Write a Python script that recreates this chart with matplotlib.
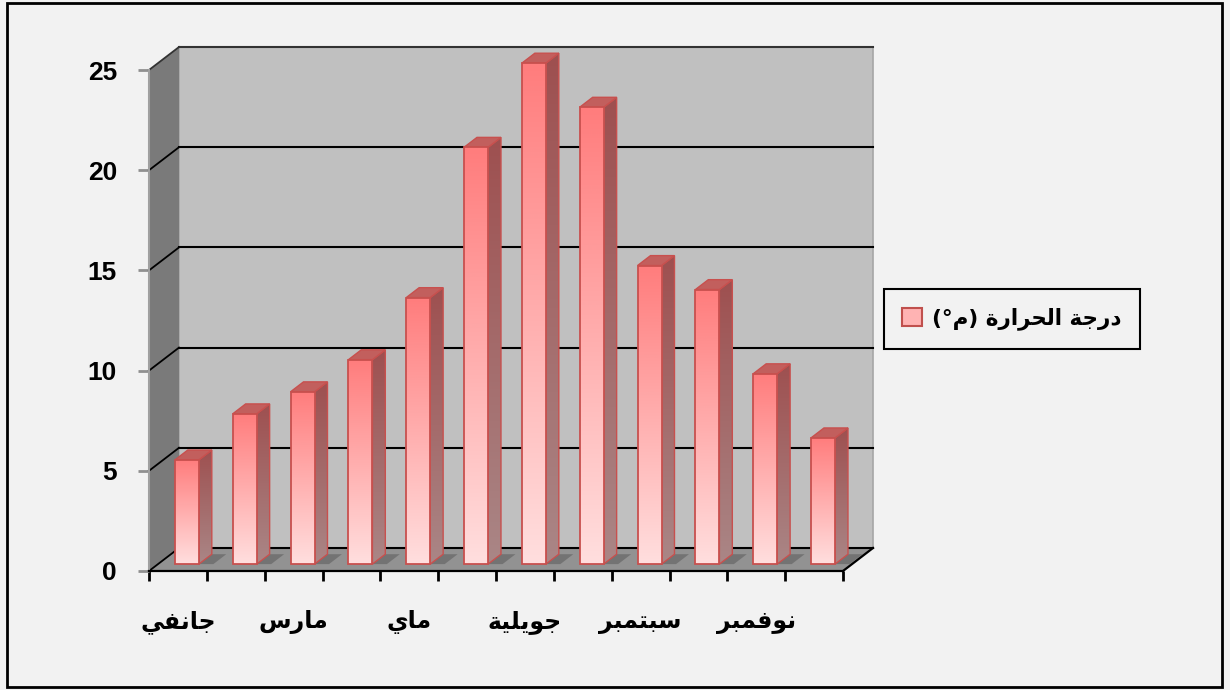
import numpy as np
import matplotlib
matplotlib.use('Agg')
import matplotlib.pyplot as plt
from matplotlib.patches import Polygon, Rectangle, Patch

# data
months = ['جانفي', 'فيفري', 'مارس', 'أفريل', 'ماي', 'جوان',
          'جويلية', 'أوت', 'سبتمبر', 'أكتوبر', 'نوفمبر', 'ديسمبر']
temps = [5.2, 7.5, 8.6, 10.2, 13.3, 20.8, 25.0, 22.8, 14.9, 13.7, 9.5, 6.3]
series_name = 'درجة الحرارة (م°)'
yticks = [0, 5, 10, 15, 20, 25]

# arabic letters -> presentation forms (isolated, final[, initial, medial])
FORMS = {
    'ا': ('\uFE8D', '\uFE8E'),
    'ب': ('\uFE8F', '\uFE90', '\uFE91', '\uFE92'),
    'ة': ('\uFE93', '\uFE94'),
    'ت': ('\uFE95', '\uFE96', '\uFE97', '\uFE98'),
    'ج': ('\uFE9D', '\uFE9E', '\uFE9F', '\uFEA0'),
    'ح': ('\uFEA1', '\uFEA2', '\uFEA3', '\uFEA4'),
    'د': ('\uFEA9', '\uFEAA'),
    'ر': ('\uFEAD', '\uFEAE'),
    'س': ('\uFEB1', '\uFEB2', '\uFEB3', '\uFEB4'),
    'ف': ('\uFED1', '\uFED2', '\uFED3', '\uFED4'),
    'ل': ('\uFEDD', '\uFEDE', '\uFEDF', '\uFEE0'),
    'م': ('\uFEE1', '\uFEE2', '\uFEE3', '\uFEE4'),
    'ن': ('\uFEE5', '\uFEE6', '\uFEE7', '\uFEE8'),
    'و': ('\uFEED', '\uFEEE'),
    'ي': ('\uFEF1', '\uFEF2', '\uFEF3', '\uFEF4'),
}
MIRROR = {'(': ')', ')': '('}


def shape(text):
    """ join letters and put them in visual (left to right) order """
    out = []
    for i, ch in enumerate(text):
        f = FORMS.get(ch)
        if f is None:
            out.append(MIRROR.get(ch, ch))
            continue
        prev = text[i - 1] if i else ''
        nxt = text[i + 1] if i + 1 < len(text) else ''
        a = prev in FORMS and len(FORMS[prev]) == 4
        b = len(f) == 4 and nxt in FORMS
        if a and b:
            out.append(f[3])
        elif a:
            out.append(f[1])
        elif b:
            out.append(f[2])
        else:
            out.append(f[0])
    return ''.join(reversed(out))


# layout of the fake 3d box (pixels)
W, H = 1230, 690
X0, Y0 = 149, 571          # front bottom-left corner
CAT_PX = (843 - 149) / 12  # one category
VAL_PX = (571 - 70) / 25   # one unit
DX = 30 / CAT_PX           # depth offset in data units
DY = 23 / VAL_PX
N = len(temps)
TOP = 25

fig = plt.figure(figsize=(W / 100, H / 100), dpi=100, facecolor='#f2f2f2')
ax = fig.add_axes([0, 0, 1, 1])
ax.set_facecolor('none')
xlim = (-X0 / CAT_PX, (W - X0) / CAT_PX)
ylim = (-(H - Y0) / VAL_PX, Y0 / VAL_PX)


def grad(poly, c_top, c_bot, z):
    xs = [p[0] for p in poly]
    ys = [p[1] for p in poly]
    g = np.linspace(0, 1, 64)[:, None, None]
    img = np.array(c_top)[None, None, :] * (1 - g) + np.array(c_bot)[None, None, :] * g
    im = ax.imshow(img / 255, extent=(min(xs), max(xs), min(ys), max(ys)),
                   aspect='auto', zorder=z, interpolation='bilinear')
    clip = Polygon(poly, closed=True, transform=ax.transData, fc='none', ec='none')
    ax.add_patch(clip)
    im.set_clip_path(clip)


# walls and floor
ax.add_patch(Polygon([(DX, DY), (N + DX, DY), (N + DX, TOP + DY), (DX, TOP + DY)],
                     fc='#c0c0c0', ec='#a6a6a6', lw=1.2, zorder=1))
ax.add_patch(Polygon([(0, 0), (DX, DY), (DX, TOP + DY), (0, TOP)],
                     fc='#7a7a7a', ec='none', zorder=1))
ax.add_patch(Polygon([(0, 0), (N, 0), (N + DX, DY), (DX, DY)],
                     fc='#929292', ec='none', zorder=1))

for v in yticks:
    c = 'black' if v < TOP else '#333333'
    ax.plot([DX, N + DX], [v + DY, v + DY], color=c, lw=1.5, zorder=2)
    ax.plot([0, DX], [v, v + DY], color=c, lw=1.3, zorder=2)
ax.plot([N, N + DX], [0, DY], color='black', lw=1.6, zorder=2)

# bars
bw = 0.415   # bar width (categories)
z0 = 0.30    # front of bar, fraction of depth
zd = 0.43    # bar depth
edge = '#c8504e'
for i, v in enumerate(temps):
    x0 = i + 0.5 - bw / 2 + z0 * DX
    y0 = z0 * DY
    x1 = x0 + bw
    ox, oy = zd * DX, zd * DY
    # shadow on the floor
    ax.add_patch(Polygon([(x1, y0), (x1 + ox, y0 + oy), (x1 + ox + 0.25, y0 + oy),
                          (x1 + 0.25, y0)], fc='#555555', ec='none', alpha=0.5, zorder=2))
    front = [(x0, y0), (x1, y0), (x1, y0 + v), (x0, y0 + v)]
    side = [(x1, y0), (x1 + ox, y0 + oy), (x1 + ox, y0 + oy + v), (x1, y0 + v)]
    top = [(x0, y0 + v), (x1, y0 + v), (x1 + ox, y0 + oy + v), (x0 + ox, y0 + oy + v)]
    grad(side, (158, 80, 80), (170, 134, 134), 3)
    ax.add_patch(Polygon(side, fc='none', ec=edge, lw=1, zorder=3.5))
    ax.add_patch(Polygon(top, fc='#c25f5d', ec=edge, lw=1, zorder=3.5))
    grad(front, (255, 125, 125), (255, 222, 222), 4)
    ax.add_patch(Polygon(front, fc='none', ec=edge, lw=1.3, zorder=4.5))

# axes, ticks and labels
for s in ['top', 'right']:
    ax.spines[s].set_visible(False)
ax.spines['left'].set_position(('data', 0))
ax.spines['left'].set_bounds(0, TOP)
ax.spines['left'].set_color('#a0a0a0')
ax.spines['left'].set_linewidth(1.5)
ax.spines['left'].set_zorder(2.5)
ax.spines['bottom'].set_position(('data', 0))
ax.spines['bottom'].set_bounds(0, N)
ax.spines['bottom'].set_color('black')
ax.spines['bottom'].set_linewidth(1.6)

ax.set_yticks(yticks)
ax.set_yticklabels([str(t) for t in yticks], fontfamily='Liberation Sans',
                   fontweight='bold', fontsize=19)
ax.tick_params(axis='y', length=8, width=2, color='#909090', pad=15)

ax.set_xticks(np.arange(N + 1))
ax.set_xticklabels([])
ax.tick_params(axis='x', which='major', length=7, width=2, color='black')
ax.set_xticks(np.arange(0, N, 2) + 0.5, minor=True)
ax.set_xticklabels([shape(m) for m in months[::2]], minor=True,
                   fontfamily='DejaVu Sans', fontweight='bold', fontsize=17)
ax.tick_params(axis='x', which='minor', length=0, pad=28)

ax.set_xlim(xlim)
ax.set_ylim(ylim)

leg = ax.legend(handles=[Patch(fc='#ffb3b3', ec='#c0504d', lw=1.5, label=shape(series_name))],
                loc='center', bbox_to_anchor=(1012 / W, 1 - 319 / H),
                bbox_transform=fig.transFigure, fancybox=False, frameon=True,
                edgecolor='black', facecolor='#f2f2f2', framealpha=1,
                prop={'family': 'DejaVu Sans', 'weight': 'bold', 'size': 15.5},
                handlelength=0.9, handleheight=0.9, handletextpad=0.5,
                borderpad=0.85)
leg.get_frame().set_linewidth(1.5)

fig.patches.append(Rectangle((7 / W, 3 / H), (1222 - 7) / W, (687 - 3) / H,
                             transform=fig.transFigure, fill=False,
                             ec='black', lw=2))

plt.savefig('out.png', dpi=100, facecolor=fig.get_facecolor())
